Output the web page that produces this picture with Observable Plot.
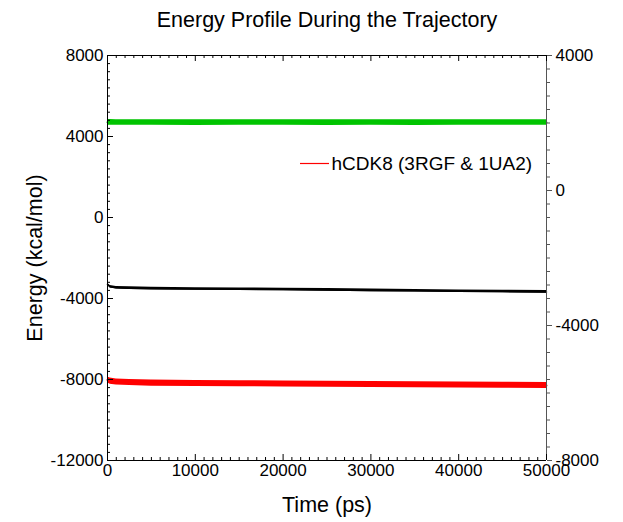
<!DOCTYPE html>
<html>
<head>
<meta charset="utf-8">
<script src="https://cdn.jsdelivr.net/npm/d3@7"></script>
<script src="https://cdn.jsdelivr.net/npm/@observablehq/plot@0.6"></script>
<style>
  html, body { margin: 0; padding: 0; background: #fff; }
  #chart { width: 623px; height: 522px; }
  line.legend-swatch { stroke: #ff0000 !important; }
</style>
</head>
<body>
<div id="chart"></div>
<script>
// ---- data ----
const timePs = [0, 300, 1000, 2500, 5000, 10000, 15000, 20000, 25000, 30000, 35000, 40000, 45000, 50000];
const kineticEnergy   = [4700, 4695, 4690, 4690, 4690, 4685, 4690, 4690, 4685, 4690, 4685, 4690, 4690, 4690];
const totalEnergy     = [-3300, -3420, -3470, -3490, -3510, -3530, -3545, -3555, -3575, -3600, -3620, -3640, -3655, -3675];
const potentialEnergy = [-8020, -8080, -8120, -8150, -8180, -8200, -8210, -8220, -8235, -8250, -8260, -8270, -8285, -8300];
const kineticSpread   = [140, 140, 140, 140, 140, 140, 140, 140, 140, 140, 140, 140, 140, 140];
const totalSpread     = [50, 60, 65, 65, 65, 65, 65, 65, 65, 65, 65, 65, 65, 65];
const potentialSpread = [140, 150, 150, 150, 150, 150, 150, 150, 150, 150, 150, 150, 150, 150];

const xMajorTicks = [0, 10000, 20000, 30000, 40000, 50000];
const yLeftMajorTicks = [-12000, -8000, -4000, 0, 4000, 8000];
const yRightMajorTicks = [-8000, -4000, 0, 4000];
const legendLabel = "hCDK8 (3RGF & 1UA2)";
const titleText = "Energy Profile During the Trajectory";
const xLabel = "Time (ps)";
const yLabel = "Energy (kcal/mol)";

const xMinorTicks = d3.range(0, 50001, 1000).filter(v => !xMajorTicks.includes(v));
const yLeftMinorTicks = d3.range(-12000, 8001, 400).filter(v => !yLeftMajorTicks.includes(v));
const yRightMinorTicks = d3.range(-8000, 4001, 400).filter(v => !yRightMajorTicks.includes(v));

// right axis (-8000..4000) shares the frame with the left axis (-12000..8000)
const toLeft = r => -12000 + (r + 8000) * (20000 / 12000);
const toRight = l => Math.round((l + 12000) * (12000 / 20000) - 8000);

function band(values, spread, name) {
  return timePs.map((t, i) => ({t, v: values[i], lo: values[i] - spread[i], hi: values[i] + spread[i], name}));
}
const green = band(kineticEnergy, kineticSpread, "kinetic");
const black = band(totalEnergy, totalSpread, "total");
const red = band(potentialEnergy, potentialSpread, "potential");

const W = 623, H = 522, mT = 55, mB = 62, mL = 107, mR = 77;
const frameW = W - mL - mR, frameH = H - mT - mB;
const font = "'Liberation Sans', Arial, sans-serif";

// legend swatch drawn as a function mark
function legendSwatch(index, scales, values, dimensions, context) {
  const doc = context && context.document ? context.document : document;
  const g = doc.createElementNS("http://www.w3.org/2000/svg", "g");
  const line = doc.createElementNS("http://www.w3.org/2000/svg", "line");
  line.setAttribute("class", "legend-swatch");
  line.setAttribute("x1", 300);
  line.setAttribute("x2", 329);
  line.setAttribute("y1", 163.5);
  line.setAttribute("y2", 163.5);
  line.setAttribute("stroke", "#ff0000");
  line.setAttribute("stroke-width", 1.2);
  g.appendChild(line);
  return g;
}

const svg = Plot.plot({
  width: W, height: H,
  marginTop: mT, marginBottom: mB, marginLeft: mL, marginRight: mR,
  x: {domain: [0, 50000], axis: null},
  y: {domain: [-12000, 8000], axis: null},
  style: {fontFamily: font, fontSize: "17px", background: "#fff", color: "#000"},
  marks: [
    // data bands
    Plot.areaY(green, {x: "t", y1: "lo", y2: "hi", fill: "#00c400"}),
    Plot.lineY(green, {x: "t", y: "v", stroke: "#00c400", strokeWidth: 2}),
    Plot.areaY(black, {x: "t", y1: "lo", y2: "hi", fill: "#000"}),
    Plot.lineY(black, {x: "t", y: "v", stroke: "#000", strokeWidth: 1.5}),
    Plot.areaY(red, {x: "t", y1: "lo", y2: "hi", fill: "#ff0000"}),
    Plot.lineY(red, {x: "t", y: "v", stroke: "#ff0000", strokeWidth: 2}),

    // frame lines
    Plot.ruleY([-12000], {stroke: "#000"}),
    Plot.ruleY([8000], {stroke: "#000"}),
    Plot.ruleX([0], {stroke: "#000"}),
    Plot.ruleX([50000], {stroke: "#555"}),

    // bottom ticks (inward)
    Plot.tickX(xMajorTicks, {x: d => d, insetTop: frameH - 6, stroke: "#000"}),
    Plot.tickX(xMinorTicks, {x: d => d, insetTop: frameH - 3, stroke: "#000"}),
    // top ticks (inward)
    Plot.tickX(xMajorTicks, {x: d => d, insetBottom: frameH - 6, stroke: "#000"}),
    Plot.tickX(xMinorTicks, {x: d => d, insetBottom: frameH - 3, stroke: "#000"}),
    // left ticks (inward)
    Plot.tickY(yLeftMajorTicks, {y: d => d, insetRight: frameW - 6, stroke: "#000"}),
    Plot.tickY(yLeftMinorTicks, {y: d => d, insetRight: frameW - 3, stroke: "#000"}),

    // axis labels
    Plot.axisX(xMajorTicks, {anchor: "bottom", tickSize: 0, tickPadding: 3, tickFormat: d => String(d), fontSize: 17, label: null}),
    Plot.axisY(yLeftMajorTicks, {anchor: "left", tickSize: 0, tickPadding: 4, tickFormat: d => String(d), fontSize: 17, label: null}),
    // right axis (outward ticks)
    Plot.axisY(yRightMinorTicks.map(toLeft), {anchor: "right", tickSize: 3, tickFormat: () => "", stroke: "#555", label: null}),
    Plot.axisY(yRightMajorTicks.map(toLeft), {anchor: "right", tickSize: 5, tickPadding: 4, stroke: "#555", tickFormat: d => String(toRight(d)), fontSize: 17, label: null}),

    // titles
    Plot.text([titleText], {frameAnchor: "top", dy: -35, lineAnchor: "middle", fontSize: 21.5, fill: "#000"}),
    Plot.text([xLabel], {frameAnchor: "bottom", dy: 45, lineAnchor: "middle", fontSize: 21.5, fill: "#000"}),
    Plot.text([yLabel], {frameAnchor: "left", dx: -72, rotate: -90, textAnchor: "middle", lineAnchor: "middle", fontSize: 21.5, fill: "#000"}),
    // legend
    legendSwatch,
    Plot.text([legendLabel], {frameAnchor: "top-left", dx: 331 - mL, dy: 163 - mT, textAnchor: "start", lineAnchor: "middle", fontSize: 19, fill: "#000"})
  ]
});

document.getElementById("chart").appendChild(svg);
</script>
</body>
</html>
